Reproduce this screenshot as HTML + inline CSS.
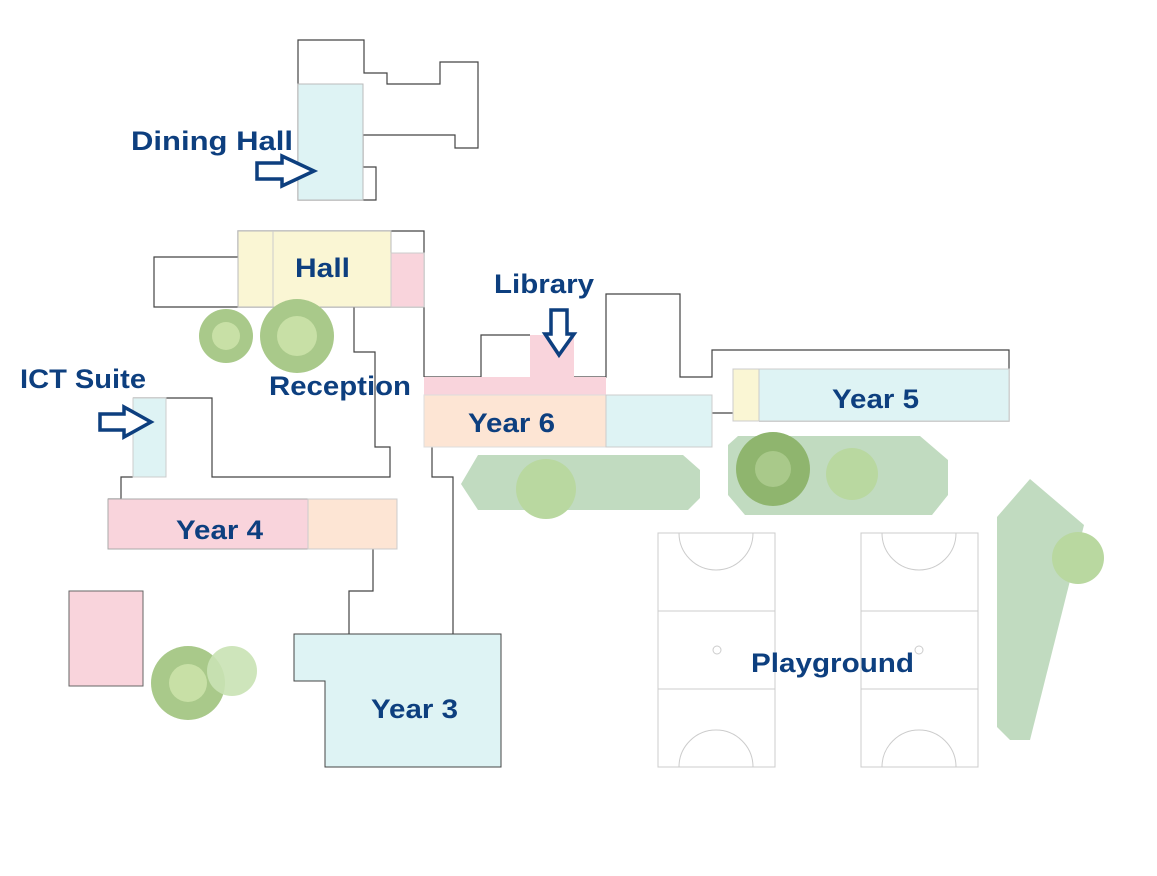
<!DOCTYPE html>
<html><head><style>body{margin:0;background:#fff}svg{display:block}text{font-family:"Liberation Sans",sans-serif;font-weight:bold;font-size:27px;fill:#0d3f7f}</style></head><body>
<svg width="1157" height="876" viewBox="0 0 1157 876">
<g stroke="#444" stroke-width="1.2" fill="#fff">
<polygon points="298,40 364,40 364,73 387,73 387,84 440,84 440,62 478,62 478,148 455,148 455,135 363,135 363,167 376,167 376,200 298,200"/>
<polygon points="154,257 238,257 238,231 424,231 424,307 154,307"/>
<polyline fill="none" points="354,307 354,352 375,352 375,447 390,447 390,477 212,477 212,398 133,398"/>
<polyline fill="none" points="133,477 121,477 121,499 108,499"/>
<polyline fill="none" points="424,307 424,377"/>
<polyline fill="none" points="424,377 481,377 481,335 530,335"/>
<polyline fill="none" points="574,377 606,377 606,294 680,294 680,377 712,377 712,350 1009,350 1009,421 759,421"/>
<polyline fill="none" points="712,413 733,413"/>
<polyline fill="none" points="373,549 373,591 349,591 349,634"/>
<polyline fill="none" points="453,634 453,477 432,477 432,447"/>
</g>
<rect x="298" y="84" width="65" height="116" fill="#def3f4" stroke="#bbb"/>
<rect x="238" y="231" width="153" height="76" fill="#faf6d4" stroke="#bbb"/>
<line x1="273" y1="231" x2="273" y2="307" stroke="#ccc"/>
<rect x="391" y="253" width="33" height="54" fill="#f9d4dc" stroke="#ccc"/>
<rect x="133" y="398" width="33" height="79" fill="#def3f4" stroke="#ccc"/>
<rect x="108" y="499" width="200" height="50" fill="#f9d4dc" stroke="#aaa"/>
<rect x="308" y="499" width="89" height="50" fill="#fde5d4" stroke="#ccc"/>
<rect x="69" y="591" width="74" height="95" fill="#f9d4dc" stroke="#666"/>
<polygon points="294,634 501,634 501,767 325,767 325,681 294,681" fill="#def3f4" stroke="#444"/>
<rect x="530" y="335" width="44" height="42" fill="#f9d4dc"/>
<rect x="424" y="377" width="182" height="18" fill="#f9d4dc"/>
<rect x="424" y="395" width="182" height="52" fill="#fde5d4" stroke="#ddd"/>
<rect x="606" y="395" width="106" height="52" fill="#def3f4" stroke="#ccc"/>
<rect x="733" y="369" width="26" height="52" fill="#faf6d4" stroke="#ccc"/>
<rect x="759" y="369" width="250" height="52" fill="#def3f4" stroke="#ccc"/>
<g fill="#c1dbc0">
<polygon points="478,455 683,455 700,470 700,498 688,510 478,510 461,484"/>
<polygon points="738,436 920,436 948,460 948,495 932,515 745,515 728,495 728,445"/>
<polygon points="997,517 1030,479 1084,525 1030,740 1010,740 997,727"/>
</g>
<g fill="none" stroke="#ccc">
<rect x="658" y="533" width="117" height="234"/><line x1="658" y1="611" x2="775" y2="611"/><line x1="658" y1="689" x2="775" y2="689"/>
<path d="M679,533 A37,37 0 0 0 753,533 M679,767 A37,37 0 0 1 753,767"/><circle cx="717" cy="650" r="4"/>
<rect x="861" y="533" width="117" height="234"/><line x1="861" y1="611" x2="978" y2="611"/><line x1="861" y1="689" x2="978" y2="689"/>
<path d="M882,533 A37,37 0 0 0 956,533 M882,767 A37,37 0 0 1 956,767"/><circle cx="919" cy="650" r="4"/>
</g>
<g>
<circle cx="226" cy="336" r="27" fill="#a9c98a"/><circle cx="226" cy="336" r="14" fill="#c8e0a6"/>
<circle cx="297" cy="336" r="37" fill="#a9c98a"/><circle cx="297" cy="336" r="20" fill="#c8e0a6"/>
<circle cx="188" cy="683" r="37" fill="#a9c98a"/><circle cx="188" cy="683" r="19" fill="#c8e0a6"/>
<circle cx="232" cy="671" r="25" fill="#c9e2b4" opacity="0.9"/>
<circle cx="546" cy="489" r="30" fill="#b9d8a0"/>
<circle cx="773" cy="469" r="37" fill="#8fb56e"/><circle cx="773" cy="469" r="18" fill="#a9c98a"/>
<circle cx="852" cy="474" r="26" fill="#b9d8a0"/>
<circle cx="1078" cy="558" r="26" fill="#b9d8a0"/>
</g>
<g fill="#fff" stroke="#0d3f7f" stroke-width="3.5" stroke-linejoin="miter">
<polygon points="257,163 282,163 282,156 314,171 282,186 282,179 257,179"/>
<polygon points="100,414 124,414 124,407 151,422 124,437 124,430 100,430"/>
<polygon points="551,310 567,310 567,334 574,334 559,355 545,334 551,334"/>
</g>
<g lengthAdjust="spacingAndGlyphs">
<text x="131" y="150" textLength="162" lengthAdjust="spacingAndGlyphs">Dining Hall</text>
<text x="295" y="277" textLength="55" lengthAdjust="spacingAndGlyphs">Hall</text>
<text x="494" y="293" textLength="100" lengthAdjust="spacingAndGlyphs">Library</text>
<text x="269" y="395" textLength="142" lengthAdjust="spacingAndGlyphs">Reception</text>
<text x="20" y="388" textLength="126" lengthAdjust="spacingAndGlyphs">ICT Suite</text>
<text x="468" y="432" textLength="87" lengthAdjust="spacingAndGlyphs">Year 6</text>
<text x="832" y="408" textLength="87" lengthAdjust="spacingAndGlyphs">Year 5</text>
<text x="176" y="539" textLength="87" lengthAdjust="spacingAndGlyphs">Year 4</text>
<text x="371" y="718" textLength="87" lengthAdjust="spacingAndGlyphs">Year 3</text>
<text x="751" y="672" textLength="163" lengthAdjust="spacingAndGlyphs">Playground</text>
</g>
</svg>
</body></html>
